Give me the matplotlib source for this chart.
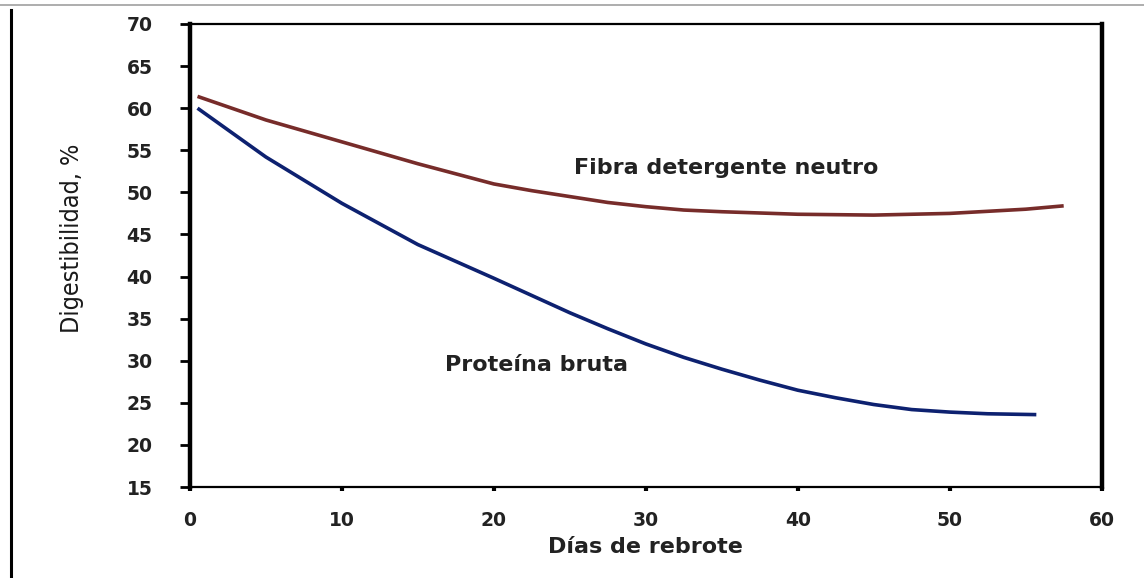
import matplotlib
matplotlib.use("Agg")
import matplotlib.pyplot as plt
from matplotlib.lines import Line2D

dias_fdn = [0.5, 5, 10, 15, 20, 22.5, 25, 27.5, 30, 32.5, 35, 40, 45, 50, 55, 57.5]
fdn = [61.4, 58.6, 56.0, 53.4, 51.0, 50.2, 49.5, 48.8, 48.3, 47.9, 47.7, 47.4, 47.3,
       47.5, 48.0, 48.4]

dias_pb = [0.5, 5, 10, 15, 20, 25, 27.5, 30, 32.5, 35, 37.5, 40, 42.5, 45, 47.5,
           50, 52.5, 55.7]
pb = [60.0, 54.2, 48.7, 43.8, 39.8, 35.7, 33.8, 32.0, 30.4, 29.0, 27.7, 26.5, 25.6,
      24.8, 24.2, 23.9, 23.7, 23.6]

x_ticks = [0, 10, 20, 30, 40, 50, 60]
y_ticks = [15, 20, 25, 30, 35, 40, 45, 50, 55, 60, 65, 70]

fig = plt.figure(figsize=(11.44, 5.78), dpi=100)
ax = fig.add_axes([0.166, 0.1574, 0.797, 0.8011])

ax.plot(dias_fdn, fdn, color="#772c2a", lw=2.6, solid_capstyle="butt",
        solid_joinstyle="round")
ax.plot(dias_pb, pb, color="#0d2170", lw=2.6, solid_capstyle="butt",
        solid_joinstyle="round")

ax.set_xlim(0, 60)
ax.set_ylim(15, 70)
ax.set_xticks(x_ticks)
ax.set_yticks(y_ticks)

for side in ("left", "right"):
    ax.spines[side].set_linewidth(3.2)
for side in ("top", "bottom"):
    ax.spines[side].set_linewidth(1.6)

ax.tick_params(axis="y", direction="out", length=7, width=2, pad=20,
               labelsize=13.5)
ax.tick_params(axis="x", direction="out", length=3, width=3, pad=14,
               labelsize=13.5)
for lab in ax.get_xticklabels() + ax.get_yticklabels():
    lab.set_fontweight("bold")
    lab.set_color("#222222")

ax.set_xlabel("Días de rebrote", fontsize=16, fontweight="bold",
              color="#222222", labelpad=5)
ax.set_ylabel("Digestibilidad, %", fontsize=18, family="DejaVu Sans",
              fontstretch="condensed", color="#1a1a1a")
ax.yaxis.set_label_coords(-0.116, 0.538)

ax.text(25.3, 52.9, "Fibra detergente neutro", fontsize=16, fontweight="bold",
        color="#222222", va="center", ha="left")
ax.text(16.8, 29.5, "Proteína bruta", fontsize=16, fontweight="bold",
        color="#222222", va="center", ha="left")

# page frame bits around the chart
fig.add_artist(Line2D([0, 1], [0.991, 0.991], transform=fig.transFigure,
                      color="#a0a0a0", lw=1.2))
fig.add_artist(Line2D([0.0095, 0.0095], [0.0, 0.983], transform=fig.transFigure,
                      color="black", lw=2.2))

fig.savefig("out.png", dpi=100)
